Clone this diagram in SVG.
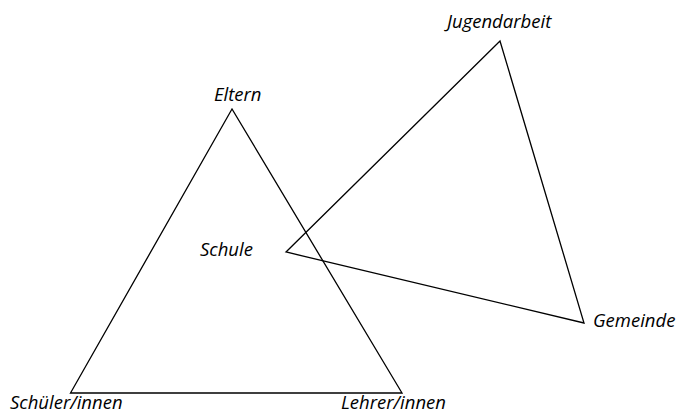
<svg xmlns="http://www.w3.org/2000/svg" width="682" height="414" viewBox="0 0 682 414">
<style>
.t{font-family:"Open Sans","Liberation Sans",sans-serif;font-style:italic;font-size:18.5px;fill:#000}
.tri{fill:none;stroke:#000;stroke-width:1.3;stroke-linejoin:miter}
</style>
<rect width="682" height="414" fill="#fff"/>
<g id="connectors">
<polygon class="tri" points="232,109 70.5,393 402,393"/>
<polygon class="tri" points="286,252 500,41 584,323"/>
</g>
<g id="eltern"><text class="t" x="214" y="101">Eltern</text></g>
<g id="schueler"><text class="t" x="10" y="409">Schüler/innen</text></g>
<g id="lehrer"><text class="t" x="341" y="409">Lehrer/innen</text></g>
<g id="schule"><text class="t" x="200" y="256">Schule</text></g>
<g id="jugendarbeit"><text class="t" x="447" y="28">Jugendarbeit</text></g>
<g id="gemeinde"><text class="t" x="593" y="327">Gemeinde</text></g>
</svg>
